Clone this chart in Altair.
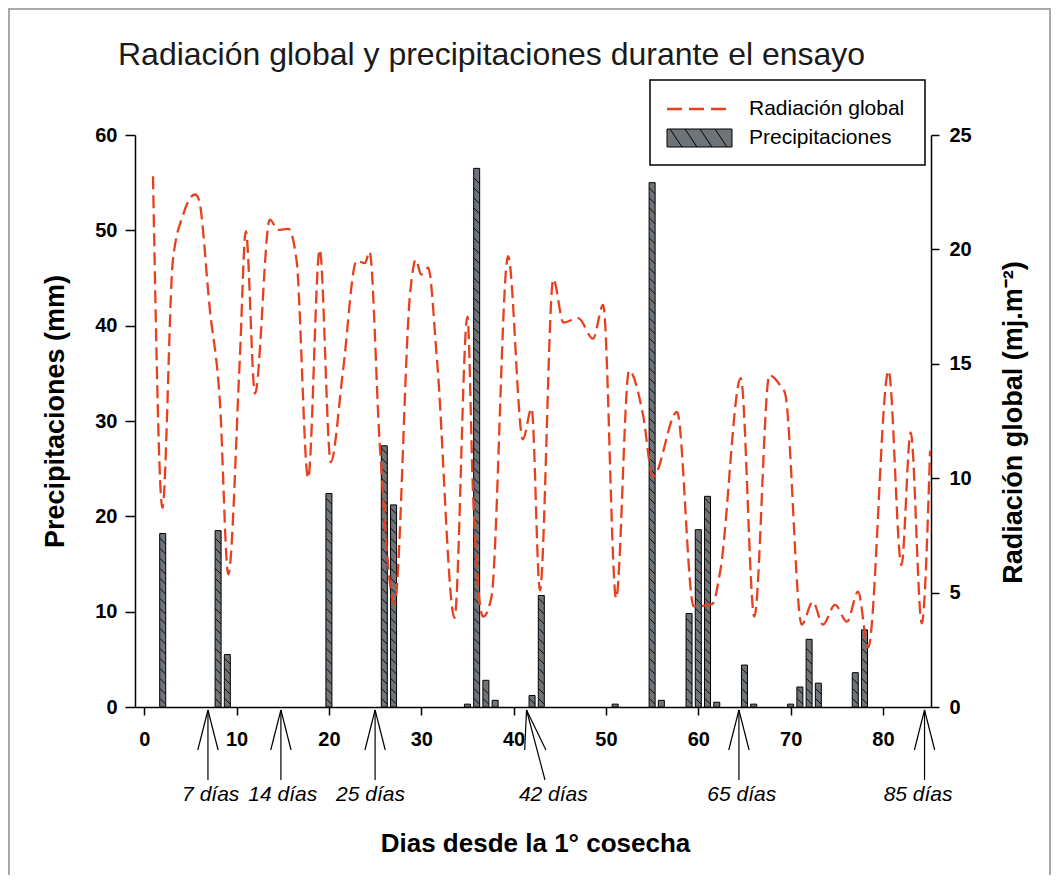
import altair as alt
import pandas as pd

# ---------------- data ----------------
prec_day = [2, 8, 9, 20, 26, 27, 35, 36, 37, 38, 42, 43, 51, 55, 56, 59, 60, 61, 62, 65, 66, 70, 71, 72, 73, 77, 78]
prec_mm = [18.2, 18.5, 5.5, 22.4, 27.4, 21.2, 0.3, 56.5, 2.8, 0.7, 1.2, 11.7, 0.3, 55.0, 0.7, 9.8, 18.6, 22.1, 0.5, 4.4, 0.3, 0.3, 2.1, 7.1, 2.5, 3.6, 8.1]

rad_day = [0.95, 1.97, 3.1, 4.2, 5.5, 5.9, 7.1, 8.2, 9.1, 10.35, 11.0, 12.0, 13.6, 14.5, 15.6, 16.5, 17.75, 19.0, 20.2, 21.5,
           23.0, 23.9, 24.4, 25.5, 27.1, 28.8, 29.4, 30.0, 30.75, 31.7, 33.6, 35.0, 35.6, 36.7, 37.6, 39.4, 41.0, 41.95, 42.85, 44.3,
           45.4, 47.0, 48.6, 49.7, 51.1, 52.5, 54.0, 55.1, 57.7, 59.5, 61.5, 62.4, 64.6, 66.07, 67.7, 68.85, 69.4, 71.2, 72.4, 73.5,
           74.8, 76.1, 77.3, 78.4, 80.6, 82.0, 83.0, 84.2, 85.1]
rad_val = [23.2, 8.7, 19.5, 21.5, 22.4, 22.2, 17.4, 13.3, 5.8, 15.2, 20.8, 13.7, 21.3, 20.85, 20.9, 19.5, 10.0, 20.0, 10.7, 14.6,
           19.5, 19.4, 19.9, 11.5, 4.5, 18.1, 19.55, 18.9, 19.2, 15.2, 3.9, 17.06, 9.4, 3.95, 4.8, 19.7, 11.7, 13.05, 5.1, 18.7,
           16.8, 17.0, 16.1, 17.57, 4.75, 14.7, 12.8, 10.07, 12.9, 4.4, 4.5, 6.0, 14.37, 3.95, 14.5, 14.07, 13.7, 3.6, 4.6, 3.6,
           4.46, 3.73, 5.04, 2.6, 14.7, 6.2, 12.0, 3.66, 11.2]

arrow_labels = ["7 días", "14 días", "25 días", "42 días", "65 días", "85 días"]
arrow_tip = [6.9, 14.8, 25.0, 41.4, 64.4, 84.5]
arrow_tail = [6.9, 14.8, 25.0, 43.4, 64.4, 84.5]
arm_left = [5.8, 13.7, 23.9, 41.2, 63.3, 83.4]
arm_right = [8.0, 15.9, 26.1, 43.5, 65.5, 85.6]
label_day = [7.2, 15.0, 24.5, 44.3, 64.7, 83.8]

x_ticks = [0, 10, 20, 30, 40, 50, 60, 70, 80]
left_ticks = [0, 10, 20, 30, 40, 50, 60]
right_ticks = [0, 5, 10, 15, 20, 25]

prec_df = pd.DataFrame({"day": prec_day, "mm": prec_mm})
rad_df = pd.DataFrame({"day": rad_day, "rad": rad_val})
arr_df = pd.DataFrame({"lab": arrow_labels, "tip": arrow_tip, "tail": arrow_tail,
                       "al": arm_left, "ar": arm_right, "lx": label_day})

FONT = "Liberation Sans"
W, H = 796, 572
RED = "#e8401f"
BAR = "#6f7479"

xscale = alt.Scale(domain=[-1, 85.2], nice=False, zero=False, padding=0)
xaxis = alt.Axis(values=x_ticks, title="Dias desde la 1° cosecha", titleFontSize=26, titleFontWeight="bold",
                 titleX=400, titleY=136, titleBaseline="middle", titleAlign="center",
                 labelFontSize=20, labelFontWeight="bold", labelPadding=14, tickSize=8)


def X(f):
    return alt.X(f"{f}:Q", scale=xscale, axis=xaxis)


yleft_scale = alt.Scale(domain=[0, 60], nice=False, padding=0)
yleft_axis = alt.Axis(values=left_ticks, orient="left", title="Precipitaciones (mm)", titleFontSize=27,
                      titleFontWeight="bold", titleX=-80, titleY=276, titleAngle=270, titleAlign="center",
                      titleBaseline="middle", labelFontSize=20, labelFontWeight="bold", tickSize=10, labelPadding=8)
yright_axis = alt.Axis(values=right_ticks, orient="right", title="Radiación global (mj.m⁻²)", titleFontSize=27,
                       titleFontWeight="bold", titleX=82, titleY=287, titleAngle=270, titleAlign="center",
                       titleBaseline="middle", labelFontSize=20, labelFontWeight="bold", tickSize=8, labelPadding=10)

one = alt.Data(values=[{}])

# ---------------- bars with hatching ----------------
bars = alt.Chart(prec_df).mark_bar(size=6, fill=BAR, stroke="black", strokeWidth=1).encode(
    x=X("day"), y=alt.Y("mm:Q", scale=yleft_scale, axis=yleft_axis)
)
hatch = alt.Chart(prec_df).transform_calculate(
    k="sequence(0.6, datum.mm - 0.3, 1.05)"
).transform_flatten(["k"]).transform_calculate(
    xa="datum.day - 0.3", xb="datum.day + 0.3", ya="datum.k + 0.3", yb="datum.k - 0.3"
).mark_rule(color="black", strokeWidth=0.9).encode(
    x=X("xa"), x2="xb:Q", y=alt.Y("ya:Q", scale=yleft_scale, axis=yleft_axis), y2="yb:Q"
)
precip = alt.layer(bars, hatch)

# ---------------- radiation line ----------------
line = alt.Chart(rad_df).mark_line(color=RED, strokeWidth=2.3, strokeDash=[13, 6], interpolate="monotone").encode(
    x=X("day"), y=alt.Y("rad:Q", scale=alt.Scale(domain=[0, 25], nice=False), axis=yright_axis)
)

# ---------------- arrows and labels below the axis ----------------
shaft = alt.Chart(arr_df).mark_rule(color="black", strokeWidth=1.2).encode(
    x=X("tip"), x2="tail:Q", y=alt.value(575), y2=alt.value(645))
arm_l = alt.Chart(arr_df).mark_rule(color="black", strokeWidth=1.2).encode(
    x=X("tip"), x2="al:Q", y=alt.value(575), y2=alt.value(615))
arm_r = alt.Chart(arr_df).mark_rule(color="black", strokeWidth=1.2).encode(
    x=X("tip"), x2="ar:Q", y=alt.value(575), y2=alt.value(615))
labs = alt.Chart(arr_df).mark_text(font=FONT, fontSize=21, fontStyle="italic", baseline="middle",
                                   align="center", color="black").encode(
    x=X("lx"), y=alt.value(660), text="lab:N")

# ---------------- title ----------------
title = alt.Chart(one).mark_text(text="Radiación global y precipitaciones durante el ensayo", font=FONT,
                                 fontSize=32, align="left", baseline="middle", color="#1a1a1a").encode(
    x=alt.value(-17), y=alt.value(-80))

# ---------------- outer frame (left, top, right) ----------------
frame_col = "#a9a9a9"
fr_l = alt.Chart(one).mark_rule(color=frame_col, strokeWidth=2).encode(
    x=alt.value(-126), y=alt.value(-126), y2=alt.value(H + 168))
fr_t = alt.Chart(one).mark_rule(color=frame_col, strokeWidth=2).encode(
    x=alt.value(-127), x2=alt.value(916), y=alt.value(-126))
fr_r = alt.Chart(one).mark_rule(color=frame_col, strokeWidth=2).encode(
    x=alt.value(915), y=alt.value(-126), y2=alt.value(H + 168))

# ---------------- legend ----------------
leg_box = alt.Chart(one).mark_rect(fill="white", stroke="black", strokeWidth=1.5).encode(
    x=alt.value(515), x2=alt.value(790), y=alt.value(-55), y2=alt.value(30))
leg_line = alt.Chart(one).mark_rule(color=RED, strokeWidth=2.3, strokeDash=[15, 7]).encode(
    x=alt.value(532), x2=alt.value(591), y=alt.value(-26))
leg_t1 = alt.Chart(one).mark_text(text="Radiación global", font=FONT, fontSize=21, align="left",
                                  baseline="middle", color="black").encode(x=alt.value(614), y=alt.value(-26))
leg_rect = alt.Chart(one).mark_rect(fill=BAR, stroke="black", strokeWidth=1).encode(
    x=alt.value(532), x2=alt.value(597), y=alt.value(-6), y2=alt.value(12))
leg_h = [alt.Chart(one).mark_rule(color="black", strokeWidth=1).encode(
    x=alt.value(hx), x2=alt.value(hx + 12), y=alt.value(-6), y2=alt.value(12)) for hx in (535, 550, 565, 580)]
leg_t2 = alt.Chart(one).mark_text(text="Precipitaciones", font=FONT, fontSize=21, align="left",
                                  baseline="middle", color="black").encode(x=alt.value(614), y=alt.value(3))

chart = alt.layer(
    fr_l, fr_t, fr_r, title, precip, line, shaft, arm_l, arm_r, labs,
    leg_box, leg_line, leg_t1, leg_rect, *leg_h, leg_t2
).resolve_scale(y="independent").properties(
    width=W, height=H,
    autosize=alt.AutoSizeParams(type="none"),
    padding={"left": 127, "top": 127, "right": 123, "bottom": 168},
    background="white",
).configure_view(stroke=None).configure_axis(
    grid=False, domainColor="black", domainWidth=1.5, tickColor="black", tickWidth=1.5,
    labelColor="black", titleColor="black", labelFont=FONT, titleFont=FONT
)

chart.save("out.html", embed_options={"renderer": "svg", "actions": False})
